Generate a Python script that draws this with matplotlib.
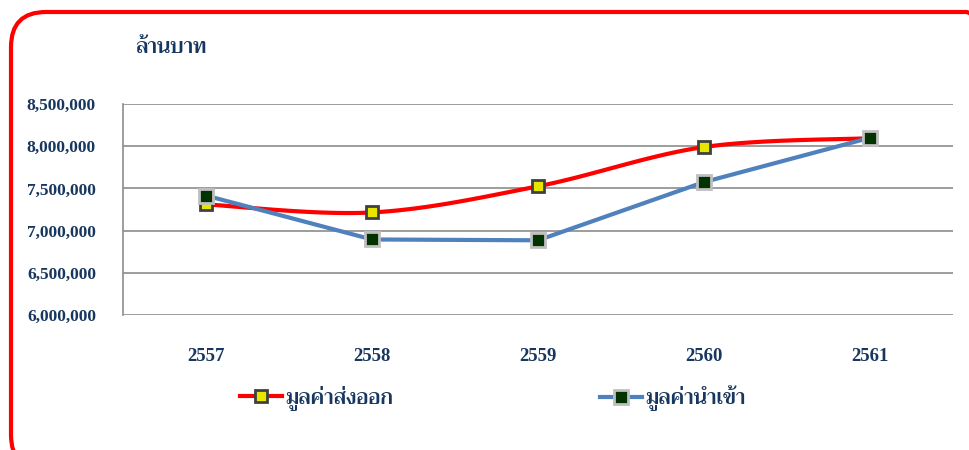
import numpy as np
import matplotlib
matplotlib.use("Agg")
import matplotlib.pyplot as plt
from matplotlib import font_manager
from matplotlib.ft2font import FT2Font
from matplotlib.lines import Line2D
from matplotlib.patches import FancyBboxPatch

# data (million-baht scale)
years = ["2557", "2558", "2559", "2560", "2561"]
export_values = [7310000, 7215000, 7525000, 7990000, 8095000]
import_values = [7415000, 6895000, 6885000, 7575000, 8100000]
y_ticks = [6000000, 6500000, 7000000, 7500000, 8000000, 8500000]
unit_label = "ล้านบาท"
export_label = "มูลค่าส่งออก"
import_label = "มูลค่านำเข้า"

TEXT = "#17375E"
RED = "#FF0000"
BLUE = "#4F81BD"


def find_thai_font():
    # look for any installed font that has Thai glyphs, prefer upright bold
    found = []
    for f in font_manager.fontManager.ttflist:
        try:
            cmap = FT2Font(f.fname).get_charmap()
        except Exception:
            continue
        if 0x0E21 in cmap and 0x0E49 in cmap and 0x0E33 in cmap:
            w = f.weight if isinstance(f.weight, int) else 700 if "bold" in str(f.weight) else 400
            upright = f.style == "normal" and "oblique" not in f.fname.lower() \
                and "italic" not in f.fname.lower()
            found.append((upright, w >= 600, f.fname))
    if not found:
        return None
    found.sort(reverse=True)
    return found[0][2]


def smooth(xs, ys, n=30):
    # Excel-style smoothed line: cubic bezier with catmull-rom control points
    xs = np.asarray(xs, float)
    ys = np.asarray(ys, float)
    px = np.concatenate([[xs[0]], xs, [xs[-1]]])
    py = np.concatenate([[ys[0]], ys, [ys[-1]]])
    out_x, out_y = [], []
    t = np.linspace(0, 1, n)
    for i in range(1, len(px) - 2):
        p0 = np.array([px[i], py[i]])
        p3 = np.array([px[i + 1], py[i + 1]])
        c1 = p0 + (np.array([px[i + 1], py[i + 1]]) - np.array([px[i - 1], py[i - 1]])) / 6
        c2 = p3 - (np.array([px[i + 2], py[i + 2]]) - np.array([px[i], py[i]])) / 6
        pts = ((1 - t)[:, None] ** 3 * p0 + 3 * ((1 - t) ** 2 * t)[:, None] * c1
               + 3 * ((1 - t) * t ** 2)[:, None] * c2 + (t ** 3)[:, None] * p3)
        out_x.extend(pts[:, 0])
        out_y.extend(pts[:, 1])
    return out_x, out_y


thai_path = find_thai_font()
if thai_path:
    thai_fp = font_manager.FontProperties(fname=thai_path, size=15)
else:
    thai_fp = font_manager.FontProperties(family="DejaVu Sans", weight="bold", size=13)

num_fp = font_manager.FontProperties(family="Liberation Serif", weight="bold", size=12.5)
year_fp = font_manager.FontProperties(family="Liberation Serif", weight="bold", size=13.5)

fig = plt.figure(figsize=(9.7, 4.5), dpi=100)
ax = fig.add_axes([123 / 970, 135 / 450, 830 / 970, 211 / 450])

x = np.arange(len(years))
sx, sy = smooth(x, export_values)
ax.plot(sx, sy, color=RED, lw=3, solid_capstyle="round", zorder=3)
ax.plot(x, export_values, ls="none", marker="s", ms=8, mfc="#E6E600",
        mec="#404040", mew=2, zorder=4)
ax.plot(x, import_values, color=BLUE, lw=3, marker="s", ms=10, mfc="#003300",
        mec="#BFBFBF", mew=2, zorder=5)

ax.set_xlim(-0.5, len(years) - 0.5)
ax.set_ylim(y_ticks[0], y_ticks[-1])
ax.set_yticks(y_ticks)
ax.set_yticklabels([f"{v:,}" for v in y_ticks])
ax.set_xticks(x)
ax.set_xticklabels(years)
for lab in ax.get_yticklabels():
    lab.set_fontproperties(num_fp)
    lab.set_color(TEXT)
for lab in ax.get_xticklabels():
    lab.set_fontproperties(year_fp)
    lab.set_color(TEXT)
ax.tick_params(axis="y", length=0, pad=19.5)
ax.tick_params(axis="x", length=0, pad=24)
ax.grid(axis="y", color="#8C8C8C", lw=1.2)
ax.set_axisbelow(True)
for s in ["top", "right", "bottom"]:
    ax.spines[s].set_visible(False)
ax.spines["left"].set_color("#8C8C8C")
ax.spines["left"].set_linewidth(1.2)

fig.text(135 / 970, 1 - 48 / 450, unit_label, fontproperties=thai_fp, color=TEXT,
         va="center", ha="left")

h_exp = Line2D([], [], color=RED, lw=3, marker="s", ms=8, mfc="#E6E600",
               mec="#404040", mew=2)
h_imp = Line2D([], [], color=BLUE, lw=3, marker="s", ms=10, mfc="#003300",
               mec="#BFBFBF", mew=2)
for h, lab, x0 in [(h_exp, export_label, 240), (h_imp, import_label, 600)]:
    leg = fig.legend([h], [lab], loc="center left", bbox_to_anchor=(x0 / 970, 1 - 398 / 450),
                     frameon=False, borderpad=0, borderaxespad=0, handlelength=2.0,
                     handletextpad=0.2, prop=thai_fp)
    for t in leg.get_texts():
        t.set_color(TEXT)

border = FancyBboxPatch((0.11, -0.2), 9.9, 4.58,
                        boxstyle="round,pad=0,rounding_size=0.35",
                        transform=fig.dpi_scale_trans, fill=False,
                        edgecolor=RED, lw=3, clip_on=False)
fig.add_artist(border)

fig.savefig("out.png", dpi=100)
